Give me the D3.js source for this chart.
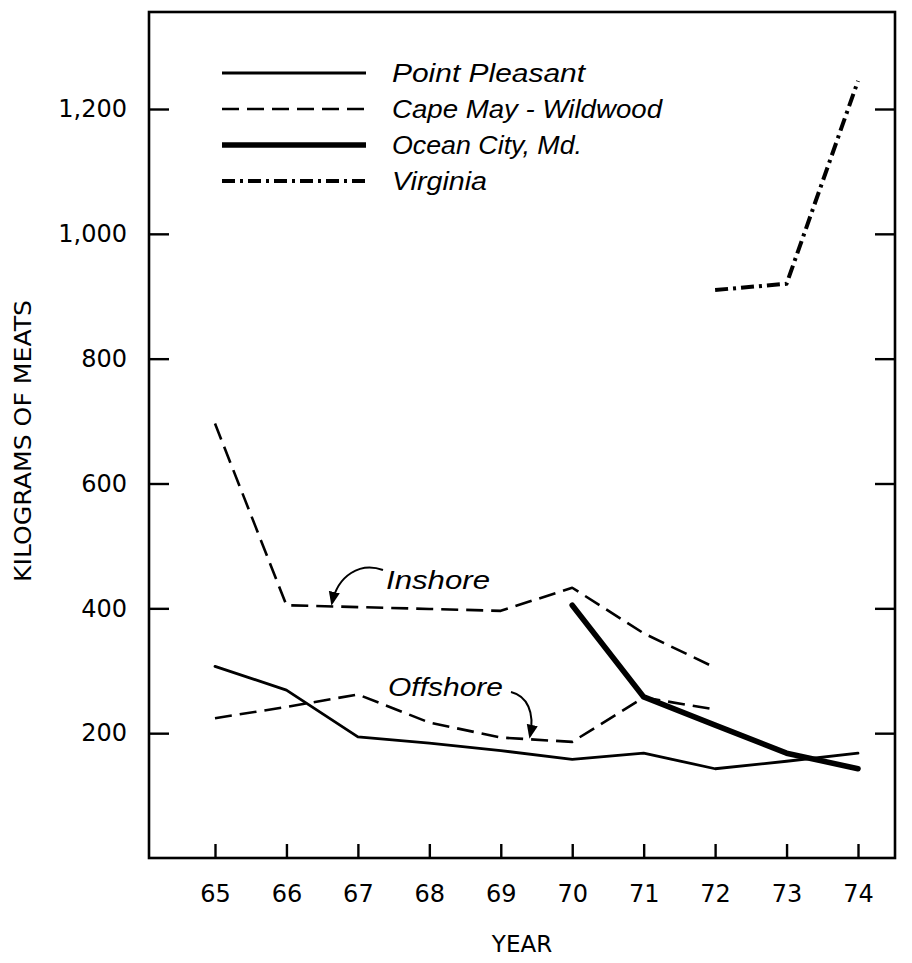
<!DOCTYPE html>
<html>
<head>
<meta charset="utf-8">
<script src="https://d3js.org/d3.v7.min.js"></script>
<style>
  body { margin: 0; background: #fff; }
  svg { display: block; }
</style>
</head>
<body>
<div id="chart"></div>
<script>
  // data
  var years = [65, 66, 67, 68, 69, 70, 71, 72, 73, 74];
  var yTicks = [200, 400, 600, 800, 1000, 1200];

  var pointPleasant = [307, 269, 194, 184, 172, 158, 168, 143, 155, 168];
  var capeMayInshore = [696, 405, 402, 399, 396, 433, 360, 305];   // 65-72
  var capeMayOffshore = [224, 242, 262, 217, 193, 186, 257, 238];  // 65-72
  var oceanCity = [405, 258, 213, 168, 143];                        // 70-74
  var virginia = [910, 920, 1245];                                  // 72-74

  var legendNames = ["Point Pleasant", "Cape May - Wildwood", "Ocean City, Md.", "Virginia"];

  var W = 912, H = 963;
  var pLeft = 149, pRight = 895, pTop = 12, pBottom = 858;

  var svg = d3.select("#chart").append("svg")
      .attr("width", W)
      .attr("height", H);

  var x = d3.scaleLinear().domain([65, 74]).range([215, 858]);
  var y = d3.scaleLinear().domain([0, 1200]).range([pBottom, 109]);

  var styles = {
    pp:  { width: 2.8, dash: null, cap: "round" },
    cm:  { width: 2.6, dash: "17,8", cap: "butt" },
    oc:  { width: 5.6, dash: null, cap: "round" },
    va:  { width: 4,   dash: "13,5,3,5", cap: "butt" }
  };

  // frame
  svg.append("rect")
     .attr("x", pLeft).attr("y", pTop)
     .attr("width", pRight - pLeft).attr("height", pBottom - pTop)
     .attr("fill", "none").attr("stroke", "#000").attr("stroke-width", 2.6);

  // axes
  var yAxis = d3.axisLeft(y).tickValues(yTicks).tickSize(-20).tickPadding(22)
                .tickFormat(d3.format(","));
  var gy = svg.append("g").attr("transform", "translate(" + pLeft + ",0)").call(yAxis);

  var yAxisR = d3.axisRight(y).tickValues(yTicks).tickSize(-20).tickFormat("");
  var gyr = svg.append("g").attr("transform", "translate(" + pRight + ",0)").call(yAxisR);

  var xAxis = d3.axisBottom(x).tickValues(years).tickSize(-14).tickPadding(27);
  var gx = svg.append("g").attr("transform", "translate(0," + pBottom + ")").call(xAxis);

  [gy, gyr, gx].forEach(function(g) {
    g.select(".domain").remove();
    g.selectAll(".tick line").attr("stroke", "#000").attr("stroke-width", 2.4);
    g.selectAll(".tick text")
     .attr("fill", "#000")
     .style("font-family", "DejaVu Sans")
     .style("font-size", "24px");
  });

  svg.append("text")
     .attr("transform", "translate(31,441) rotate(-90)")
     .attr("text-anchor", "middle")
     .attr("textLength", 282)
     .attr("lengthAdjust", "spacingAndGlyphs")
     .style("font-family", "DejaVu Sans")
     .style("font-size", "23px")
     .text("KILOGRAMS OF MEATS");

  svg.append("text")
     .attr("x", 522).attr("y", 952)
     .attr("text-anchor", "middle")
     .style("font-family", "DejaVu Sans")
     .style("font-size", "23px")
     .text("YEAR");

  // lines
  var line = d3.line()
      .x(function(d) { return x(d[0]); })
      .y(function(d) { return y(d[1]); });

  function draw(startYear, values, st) {
    var pts = values.map(function(v, i) { return [startYear + i, v]; });
    svg.append("path")
       .datum(pts)
       .attr("d", line)
       .attr("fill", "none")
       .attr("stroke", "#000")
       .attr("stroke-width", st.width)
       .attr("stroke-linejoin", "round")
       .attr("stroke-linecap", st.cap)
       .attr("stroke-dasharray", st.dash);
  }

  draw(65, pointPleasant, styles.pp);
  draw(65, capeMayInshore, styles.cm);
  draw(65, capeMayOffshore, styles.cm);
  draw(70, oceanCity, styles.oc);
  draw(72, virginia, styles.va);

  // legend
  var legStyles = [styles.pp, styles.cm, styles.oc, styles.va];
  var legY = [73, 109, 145, 181];
  var legLen = [193, 270, 190, 95];
  legendNames.forEach(function(name, i) {
    var st = legStyles[i];
    svg.append("line")
       .attr("x1", 222).attr("x2", 366)
       .attr("y1", legY[i]).attr("y2", legY[i])
       .attr("stroke", "#000")
       .attr("stroke-width", st.width)
       .attr("stroke-dasharray", st.dash);
    svg.append("text")
       .attr("x", 392).attr("y", legY[i] + 9)
       .attr("textLength", legLen[i])
       .attr("lengthAdjust", "spacingAndGlyphs")
       .style("font-family", "Liberation Sans")
       .style("font-style", "italic")
       .style("font-size", "25px")
       .text(name);
  });

  // annotations
  svg.append("defs").append("marker")
     .attr("id", "arrow")
     .attr("viewBox", "0 0 10 10")
     .attr("refX", 8).attr("refY", 5)
     .attr("markerWidth", 7).attr("markerHeight", 7)
     .attr("orient", "auto")
     .append("path")
     .attr("d", "M0,1 L10,5 L0,9 Z")
     .attr("fill", "#000");

  svg.append("path")
     .attr("d", "M383,570 C360,562 338,575 332,603")
     .attr("fill", "none").attr("stroke", "#000").attr("stroke-width", 2)
     .attr("marker-end", "url(#arrow)");

  svg.append("text")
     .attr("x", 386).attr("y", 589)
     .attr("textLength", 104)
     .attr("lengthAdjust", "spacingAndGlyphs")
     .style("font-family", "Liberation Sans")
     .style("font-style", "italic")
     .style("font-size", "26px")
     .text("Inshore");

  svg.append("path")
     .attr("d", "M511,692 C527,696 535,712 530,736")
     .attr("fill", "none").attr("stroke", "#000").attr("stroke-width", 2)
     .attr("marker-end", "url(#arrow)");

  svg.append("text")
     .attr("x", 388).attr("y", 696)
     .attr("textLength", 115)
     .attr("lengthAdjust", "spacingAndGlyphs")
     .style("font-family", "Liberation Sans")
     .style("font-style", "italic")
     .style("font-size", "26px")
     .text("Offshore");
</script>
</body>
</html>
